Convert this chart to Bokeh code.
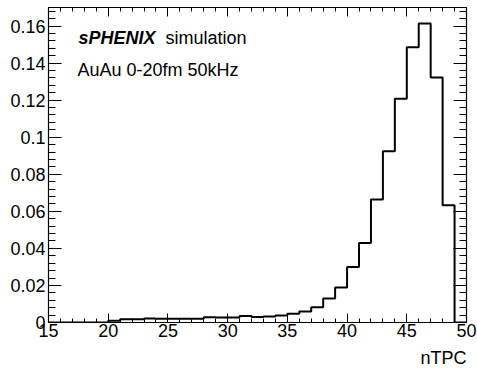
from bokeh.plotting import figure
from bokeh.models import (LinearAxis, SingleIntervalTicker, CustomJSTickFormatter,
                          Label, Range1d, Title)
from bokeh.embed import file_html
from bokeh.resources import INLINE

# bin left edges (width 1) and normalized counts
bin_edges = list(range(15, 51))
counts = [0, 0, 0, 0, 0,
          0.0010, 0.0017, 0.0017, 0.0022, 0.0020,
          0.0020, 0.0020, 0.0020, 0.0028, 0.0027,
          0.0027, 0.0035, 0.0030, 0.0032, 0.0038,
          0.0047, 0.0060, 0.0082, 0.0130, 0.0189,
          0.0300, 0.0429, 0.0664, 0.0924, 0.1208,
          0.1486, 0.1614, 0.1322, 0.0633, 0.0]
step_y = counts + [counts[-1]]

x_range = (15, 50)
y_range = (0, 0.17)
x_title = "nTPC"
label1_bold = "sPHENIX"
label1_rest = "simulation"
label2 = "AuAu 0-20fm 50kHz"

FONT = "Liberation Sans"

p = figure(width=477, height=376, output_backend="svg", toolbar_location=None,
           x_range=Range1d(*x_range), y_range=Range1d(*y_range),
           x_axis_location=None, y_axis_location=None,
           min_border_left=48, min_border_right=11, min_border_top=7, min_border_bottom=54)
p.xgrid.visible = False
p.ygrid.visible = False
p.outline_line_color = "black"
p.outline_line_width = 1.2
p.background_fill_color = "white"
p.border_fill_color = "white"

fmt = CustomJSTickFormatter(code="return String(Number(tick.toFixed(4)));")
blank = CustomJSTickFormatter(code="return '';")

def style(ax, labels, tin, tmin, standoff):
    ax.major_tick_in = tin
    ax.major_tick_out = 0
    ax.minor_tick_in = tmin
    ax.minor_tick_out = 0
    ax.axis_line_color = "black"
    ax.major_tick_line_color = "black"
    ax.minor_tick_line_color = "black"
    ax.major_label_text_font = FONT
    ax.major_label_text_font_size = "18px"
    ax.major_label_text_color = "black"
    ax.major_label_standoff = standoff if labels else 0
    return ax

xb = style(LinearAxis(ticker=SingleIntervalTicker(interval=5, num_minor_ticks=5)),
           True, 9, 4, 1)
xt = style(LinearAxis(ticker=SingleIntervalTicker(interval=5, num_minor_ticks=5),
                      formatter=blank), False, 9, 4, 0)
yl = style(LinearAxis(ticker=SingleIntervalTicker(interval=0.02, num_minor_ticks=5),
                      formatter=fmt), True, 13, 7, 3)
yr = style(LinearAxis(ticker=SingleIntervalTicker(interval=0.02, num_minor_ticks=5),
                      formatter=blank), False, 13, 7, 0)

p.add_layout(xb, "below")
p.add_layout(xt, "above")
p.add_layout(yl, "left")
p.add_layout(yr, "right")

p.add_layout(Title(text=x_title, align="right", text_font=FONT, text_font_size="18px",
                   text_font_style="normal", text_color="black", standoff=13,
                   vertical_align="bottom"), "below")

p.step(x=bin_edges, y=step_y, mode="after", line_color="black", line_width=2)

p.add_layout(Label(x=30, y=285, x_units="screen", y_units="screen", text=label1_bold,
                   text_font=FONT, text_font_size="18px", text_font_style="bold italic",
                   text_baseline="middle", text_color="black"))
p.add_layout(Label(x=117, y=285, x_units="screen", y_units="screen", text=label1_rest,
                   text_font=FONT, text_font_size="18px",
                   text_baseline="middle", text_color="black"))
p.add_layout(Label(x=29, y=253, x_units="screen", y_units="screen", text=label2,
                   text_font=FONT, text_font_size="18px",
                   text_baseline="middle", text_color="black"))

open("out.html", "w").write(file_html(p, INLINE))
